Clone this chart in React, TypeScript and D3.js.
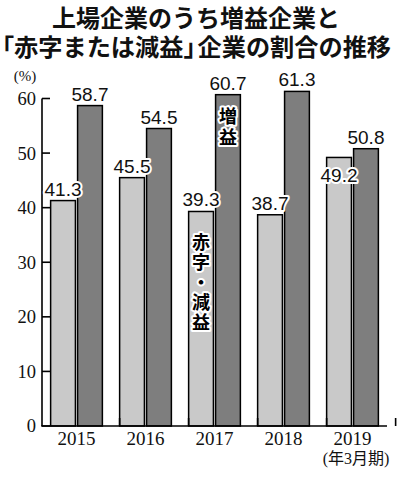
import React from 'react';
import * as d3 from 'd3';

const years = ['2015', '2016', '2017', '2018', '2019'];
const lossValues = [41.3, 45.5, 39.3, 38.7, 49.2]; // 赤字・減益
const gainValues = [58.7, 54.5, 60.7, 61.3, 50.8]; // 増益
const yTicks = [0, 10, 20, 30, 40, 50, 60];
const titleLine1 = '上場企業のうち増益企業と';
const titleOpen = '「';
const titleLine2a = '赤字または減益';
const titleClose = '」';
const titleLine2c = '企業の割合の推移';
const gainLabel = '増益';
const lossLabel = '赤字・減益';
const unitLabel = '(%)';
const periodLabel = '(年3月期)';

const W = 400;
const H = 478;
const LIGHT = '#c9c9c9';
const DARK = '#7e7e7e';
const SANS = '"Liberation Sans", Arial, sans-serif';
const SERIF = '"Liberation Serif", "Times New Roman", serif';
const CJK = '"Noto Sans CJK JP", sans-serif';

export default function App() {
  const x = d3.scaleBand<string>().domain(years).range([42, 387]).paddingInner(0.25).paddingOuter(0.125);
  const sub = d3.scaleBand<string>().domain(['loss', 'gain']).range([0, x.bandwidth()]).paddingInner(0.08);
  const y = d3.scaleLinear().domain([0, 60]).range([426, 98.5]);
  const halo = { stroke: '#fff', strokeWidth: 4, paintOrder: 'stroke' as const, strokeLinejoin: 'round' as const };
  const halt = { fontFeatureSettings: '"halt"' };

  const bars: any[] = [];
  years.forEach((yr, i) => {
    const bx = x(yr)!;
    const lv = lossValues[i];
    const gv = gainValues[i];
    bars.push({ key: yr + 'l', x: bx + sub('loss')!, w: sub.bandwidth(), v: lv, fill: LIGHT, inside: Math.abs(gv - lv) < 4 && lv < gv });
    bars.push({ key: yr + 'g', x: bx + sub('gain')!, w: sub.bandwidth(), v: gv, fill: DARK, inside: Math.abs(gv - lv) < 4 && gv < lv });
  });

  const i2017 = years.indexOf('2017');
  const gx = x('2017')! + sub('gain')! + sub.bandwidth() / 2;
  const lx = x('2017')! + sub('loss')! + sub.bandwidth() / 2;
  const gTop = y(gainValues[i2017]);
  const lTop = y(lossValues[i2017]);

  return (
    <svg width={W} height={H} style={{ position: 'absolute', left: 0, top: 0, background: '#fff' }}>
      <rect x={0} y={0} width={W} height={H} fill="#fff" />
      {/* Title */}
      <text x={52} y={27} fontFamily={CJK} fontWeight={700} fontSize={24} fill="#111">{titleLine1}</text>
      <text x={2} y={56} fontFamily={CJK} fontWeight={700} fontSize={24.2} fill="#111">
        <tspan style={halt}>{titleOpen}</tspan>
        <tspan>{titleLine2a}</tspan>
        <tspan style={halt}>{titleClose}</tspan>
        <tspan dx={2}>{titleLine2c}</tspan>
      </text>

      {/* unit */}
      <text x={25} y={81} textAnchor="middle" fontFamily={SERIF} fontSize={15} fill="#111">{unitLabel}</text>

      {/* bars */}
      {bars.map((b) => (
        <rect key={b.key} x={b.x} y={y(b.v)} width={b.w} height={y(0) - y(b.v)} fill={b.fill} stroke="#000" strokeWidth={1.5} />
      ))}

      {/* y axis */}
      <line x1={42} x2={42} y1={y(60)} y2={y(0)} stroke="#000" strokeWidth={1.6} />
      {yTicks.map((t) => (
        <g key={t}>
          <line x1={42} x2={50} y1={y(t)} y2={y(t)} stroke="#000" strokeWidth={1.6} />
          <text x={36} y={y(t)} dy="0.35em" textAnchor="end" fontFamily={SERIF} fontSize={18.5} fill="#111">{t}</text>
        </g>
      ))}

      {/* x axis */}
      <line x1={41.2} x2={387} y1={y(0)} y2={y(0)} stroke="#000" strokeWidth={1.6} />
      {years.map((yr) => (
        <line key={yr} x1={x(yr)! + x.step()} x2={x(yr)! + x.step()} y1={y(0)} y2={y(0) - 8} stroke="#000" strokeWidth={1.6} />
      ))}
      {years.map((yr) => (
        <text key={yr} x={x(yr)! + x.bandwidth() / 2} y={445} textAnchor="middle" fontFamily={SERIF} fontSize={19} fill="#111">{yr}</text>
      ))}
      <text x={356} y={464} textAnchor="middle" fontFamily={`${SERIF}, ${CJK}`} fontSize={16} fill="#111">{periodLabel}</text>

      {/* value labels */}
      {bars.map((b) => (
        <text key={'t' + b.key} x={b.x + b.w / 2} y={b.inside ? y(b.v) + 25 : y(b.v) - 5} textAnchor="middle" fontFamily={SANS} fontSize={19} fill="#111" {...halo}>
          {b.v.toFixed(1)}
        </text>
      ))}

      {/* series annotations (vertical) */}
      <text x={gx} y={gTop + 12} style={{ writingMode: 'vertical-rl', letterSpacing: '3px' }} fontFamily={CJK} fontWeight={700} fontSize={18} fill="#000" {...halo}>
        {gainLabel}
      </text>
      <text x={lx} y={lTop + 22} style={{ writingMode: 'vertical-rl', letterSpacing: '2px' }} fontFamily={CJK} fontWeight={700} fontSize={18} fill="#000" {...halo}>
        {lossLabel}
      </text>
    </svg>
  );
}
